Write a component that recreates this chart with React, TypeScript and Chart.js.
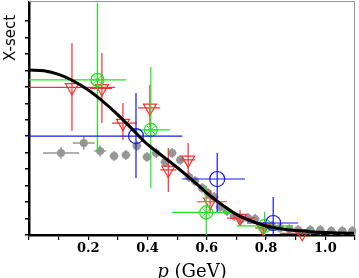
import React, { useEffect, useRef } from 'react';
import { Chart, registerables } from 'chart.js';

Chart.register(...registerables);

// ---- data ----
const curveP = [0, 0.05, 0.1, 0.15, 0.2, 0.25, 0.3, 0.35, 0.4, 0.45, 0.5, 0.55, 0.6, 0.65, 0.7, 0.75, 0.8, 0.85, 0.9, 0.95, 1.0, 1.05, 1.1];
const curveV = [10.02, 9.97, 9.75, 9.35, 8.8, 8.1, 7.3, 6.4, 5.5, 4.8, 4.1, 3.35, 2.55, 1.85, 1.25, 0.85, 0.55, 0.38, 0.27, 0.2, 0.15, 0.12, 0.1];

const greyP = [0.108, 0.185, 0.24, 0.287, 0.327, 0.364, 0.398, 0.429, 0.459, 0.483, 0.51, 0.54, 0.56, 0.584, 0.604, 0.625, 0.645, 0.668, 0.692, 0.716, 0.739, 0.763, 0.793, 0.82, 0.847, 0.878, 0.908, 0.949, 0.983, 1.02, 1.057, 1.091];
const greyV = [4.98, 5.59, 5.1, 4.8, 4.86, 5.41, 4.74, 4.98, 4.43, 4.98, 4.56, 3.52, 3.28, 2.86, 2.55, 2.31, 1.7, 1.46, 1.15, 0.97, 1.03, 0.97, 0.49, 0.55, 0.43, 0.36, 0.3, 0.3, 0.3, 0.24, 0.24, 0.24];
const greyPErr = [0.061, 0.037, 0.02, 0.015, 0.015, 0.015, 0.015, 0.015, 0.015, 0.015, 0.015, 0.015, 0.015, 0.015, 0.015, 0.015, 0.015, 0.015, 0.015, 0.015, 0.015, 0.015, 0.015, 0.015, 0.015, 0.015, 0.015, 0.015, 0.015, 0.015, 0.015, 0.015];
const greyVErr = [0.35, 0.4, 0.35, 0.3, 0.3, 0.3, 0.3, 0.3, 0.3, 0.3, 0.3, 0.3, 0.3, 0.3, 0.3, 0.3, 0.3, 0.3, 0.3, 0.3, 0.3, 0.3, 0.3, 0.3, 0.3, 0.3, 0.3, 0.3, 0.3, 0.3, 0.3, 0.3];

const redP = [0.145, 0.246, 0.317, 0.408, 0.47, 0.537, 0.611, 0.712, 0.79, 0.922];
const redV = [8.96, 8.9, 6.8, 7.72, 3.95, 4.56, 2.02, 1.03, 0.43, 0.1];
const redPLo = [0, 0.206, 0.28, 0.368, 0.443, 0.51, 0.567, 0.668, 0.763, 0.848];
const redPHi = [0.29, 0.28, 0.364, 0.442, 0.497, 0.56, 0.668, 0.763, 0.83, 0.993];
const redVLo = [6.32, 6.8, 5.77, 6.56, 2.61, 3.46, 1.34, 0.55, 0.06, 0];
const redVHi = [11.66, 11.06, 8.02, 9.11, 5.29, 5.59, 2.73, 1.52, 0.79, 0.3];

const greenP = [0.231, 0.411, 0.598, 0.795];
const greenV = [9.42, 6.38, 1.37, 0.55];
const greenPLo = [0, 0.351, 0.483, 0.702];
const greenPHi = [0.327, 0.476, 0.695, 0.891];
const greenVLo = [5.04, 2.86, -0.6, -0.3];
const greenVHi = [14.1, 10.2, 2.98, 1.4];

const blueP = [0.361, 0.635, 0.824];
const blueV = [6.01, 3.4, 0.73];
const bluePLo = [0, 0.517, 0.736];
const bluePHi = [0.517, 0.729, 0.908];
const blueVLo = [3.46, 1.4, -0.3];
const blueVHi = [8.63, 4.98, 2.31];

const xTickLabels = ['0.2', '0.4', '0.6', '0.8', '1.0'];
const xTitleItalic = 'p';
const xTitleRest = ' (GeV)';
const yTitle = 'X-sect';

const RED = 'rgb(255,45,45)';
const GREEN = 'rgb(30,230,30)';
const BLUE = 'rgb(25,25,235)';
const GREY = 'rgb(150,150,150)';

const zip = (p: number[], v: number[]) => p.map((x, i) => ({ x, y: v[i] }));

const errorBarPlugin = {
  id: 'errorBars',
  beforeDatasetDraw(chart: any, args: any) {
    const ds = chart.data.datasets[args.index];
    const e = ds.errors;
    if (!e) return;
    const xs = chart.scales.x;
    const ys = chart.scales.y;
    const ctx = chart.ctx;
    const a = chart.chartArea;
    ctx.save();
    ctx.beginPath();
    ctx.rect(a.left, a.top, a.right - a.left, a.bottom - a.top);
    ctx.clip();
    ctx.strokeStyle = e.color;
    ctx.lineWidth = e.width;
    ctx.beginPath();
    ds.data.forEach((pt: any, i: number) => {
      const px = xs.getPixelForValue(pt.x);
      const py = ys.getPixelForValue(pt.y);
      ctx.moveTo(xs.getPixelForValue(e.xLo[i]), py);
      ctx.lineTo(xs.getPixelForValue(e.xHi[i]), py);
      ctx.moveTo(px, ys.getPixelForValue(e.yLo[i]));
      ctx.lineTo(px, ys.getPixelForValue(e.yHi[i]));
    });
    ctx.stroke();
    ctx.restore();
  },
};

const decorPlugin = {
  id: 'decor',
  afterDraw(chart: any) {
    const ctx = chart.ctx;
    const a = chart.chartArea;
    ctx.save();
    ctx.strokeStyle = 'rgb(150,150,150)';
    ctx.lineWidth = 1;
    ctx.beginPath();
    ctx.moveTo(a.left, a.top - 0.5);
    ctx.lineTo(a.right - 0.5, a.top - 0.5);
    ctx.lineTo(a.right - 0.5, a.bottom);
    ctx.stroke();
    ctx.fillStyle = '#000';
    ctx.textBaseline = 'alphabetic';
    ctx.textAlign = 'left';
    const fIt = 'italic 18px "DejaVu Serif"';
    const fRg = '18px "DejaVu Serif"';
    ctx.font = fIt;
    const w1 = ctx.measureText(xTitleItalic).width;
    ctx.font = fRg;
    const w2 = ctx.measureText(xTitleRest).width;
    const cx = (a.left + a.right) / 2;
    const x0 = cx - (w1 + w2) / 2;
    const by = 277;
    ctx.font = fIt;
    ctx.fillText(xTitleItalic, x0, by);
    ctx.font = fRg;
    ctx.fillText(xTitleRest, x0 + w1, by);
    ctx.translate(15, 38);
    ctx.rotate(-Math.PI / 2);
    ctx.textAlign = 'center';
    ctx.font = '15px "DejaVu Sans"';
    ctx.fillText(yTitle, 0, 0);
    ctx.restore();
  },
};

export default function App() {
  const ref = useRef<HTMLCanvasElement | null>(null);
  useEffect(() => {
    if (!ref.current) return;
    const chart = new Chart(ref.current, {
      type: 'scatter',
      data: {
        datasets: [
          {
            data: zip(curveP, curveV),
            showLine: true,
            borderColor: '#000',
            borderWidth: 3,
            pointRadius: 0,
            cubicInterpolationMode: 'monotone',
            order: 0,
          } as any,
          {
            data: zip(blueP, blueV),
            pointStyle: 'circle',
            pointRadius: 7.5,
            pointBorderColor: BLUE,
            pointBackgroundColor: 'rgba(0,0,0,0)',
            pointBorderWidth: 1.2,
            clip: 10,
            order: 1,
            errors: { xLo: bluePLo, xHi: bluePHi, yLo: blueVLo, yHi: blueVHi, color: BLUE, width: 1.2 },
          } as any,
          {
            data: zip(greenP, greenV),
            pointStyle: 'star',
            pointRadius: 6,
            pointBorderColor: GREEN,
            pointBorderWidth: 1,
            clip: 10,
            order: 2,
          } as any,
          {
            data: zip(greenP, greenV),
            pointStyle: 'circle',
            pointRadius: 6.5,
            pointBorderColor: GREEN,
            pointBackgroundColor: 'rgba(0,0,0,0)',
            pointBorderWidth: 1.2,
            clip: 10,
            order: 3,
            errors: { xLo: greenPLo, xHi: greenPHi, yLo: greenVLo, yHi: greenVHi, color: GREEN, width: 1.2 },
          } as any,
          {
            data: zip(redP, redV),
            pointStyle: 'triangle',
            pointRotation: 180,
            pointRadius: 7.5,
            pointBorderColor: RED,
            pointBackgroundColor: 'rgba(0,0,0,0)',
            pointBorderWidth: 1.2,
            clip: 10,
            order: 4,
            errors: { xLo: redPLo, xHi: redPHi, yLo: redVLo, yHi: redVHi, color: RED, width: 1.2 },
          } as any,
          {
            data: zip(greyP, greyV),
            pointStyle: 'circle',
            pointRadius: 4,
            pointBorderColor: GREY,
            pointBackgroundColor: GREY,
            pointBorderWidth: 0,
            clip: 10,
            order: 5,
            errors: {
              xLo: greyP.map((p, i) => p - greyPErr[i]),
              xHi: greyP.map((p, i) => p + greyPErr[i]),
              yLo: greyV.map((v, i) => v - greyVErr[i]),
              yHi: greyV.map((v, i) => v + greyVErr[i]),
              color: GREY,
              width: 1.5,
            },
          } as any,
        ],
      },
      options: {
        animation: false,
        responsive: false,
        devicePixelRatio: 1,
        events: [],
        layout: { autoPadding: false, padding: { left: 0, right: 4, top: 2, bottom: 0 } },
        plugins: { legend: { display: false }, tooltip: { enabled: false } },
        scales: {
          x: {
            type: 'linear',
            min: 0,
            max: 1.1,
            afterFit: (s: any) => { s.height = 43; },
            ticks: {
              stepSize: 0.1,
              autoSkip: false,
              maxRotation: 0,
              padding: 1,
              color: '#000',
              font: { family: '"DejaVu Serif"', size: 13, weight: 'bold' },
              callback: (val: any) => {
                const s = Number(val).toFixed(1);
                return xTickLabels.includes(s) ? s : '';
              },
            },
            grid: { drawOnChartArea: false, drawTicks: true, tickLength: 5, color: '#000', lineWidth: 1.2 },
            border: { display: true, color: '#000', width: 2.5 },
          },
          y: {
            type: 'linear',
            min: 0,
            max: 14.15,
            afterFit: (s: any) => { s.width = 29; },
            afterBuildTicks: (s: any) => { s.ticks = s.ticks.filter((t: any) => t.value <= 13); },
            ticks: { stepSize: 1, display: false },
            grid: { drawOnChartArea: false, drawTicks: true, tickLength: 4, color: '#000', lineWidth: 1.5 },
            border: { display: true, color: '#000', width: 2.5 },
          },
        },
      } as any,
      plugins: [errorBarPlugin, decorPlugin],
    });
    return () => chart.destroy();
  }, []);
  return (
    <div style={{ position: 'absolute', left: 0, top: 0, width: 359, height: 278 }}>
      <canvas ref={ref} width={359} height={278} style={{ display: 'block', width: 359, height: 278 }} />
    </div>
  );
}
